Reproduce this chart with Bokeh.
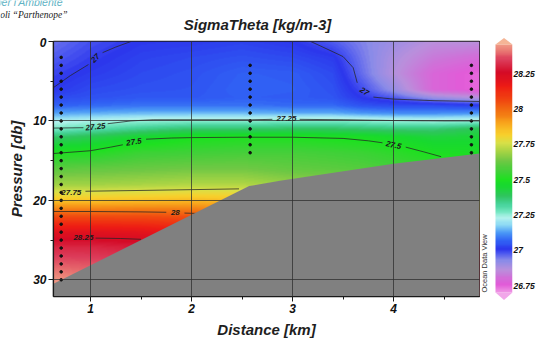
import numpy as np
from bokeh.plotting import figure
from bokeh.models import (Range1d, LinearColorMapper, FixedTicker, LinearAxis,
                          CustomJSTickFormatter)
from bokeh.core.properties import value
from bokeh.layouts import row, column
from bokeh.embed import file_html
from bokeh.resources import INLINE

# ------------------------------------------------------------------ data
distance_km = [0.63, 1.0, 1.5, 2.0, 2.5, 3.0, 3.4, 3.7, 4.0, 4.4, 4.85]
pressure_db = [0, 2, 4, 6, 7, 8, 9, 10, 11, 12, 14, 16, 18, 20, 22, 24, 26, 28, 30, 32]

sigma_at_0_63 = [26.95, 26.97, 26.99, 27.005, 27.03, 27.06, 27.13, 27.21, 27.27, 27.37, 27.50, 27.60, 27.69, 27.84, 28.05, 28.21, 28.31, 28.38, 28.45, 28.48]
sigma_at_1_00 = [26.98, 26.995, 27.01, 27.03, 27.04, 27.07, 27.14, 27.23, 27.30, 27.40, 27.51, 27.61, 27.69, 27.84, 28.05, 28.21, 28.31, 28.37, 28.42, 28.45]
sigma_at_1_50 = [27.005, 27.02, 27.03, 27.04, 27.05, 27.08, 27.15, 27.25, 27.34, 27.45, 27.55, 27.62, 27.70, 27.85, 28.05, 28.20, 28.29, 28.35, 28.40, 28.44]
sigma_at_2_00 = [27.01, 27.03, 27.04, 27.045, 27.05, 27.08, 27.15, 27.26, 27.37, 27.49, 27.56, 27.63, 27.71, 27.86, 28.04, 28.17, 28.27, 28.33, 28.38, 28.42]
sigma_at_2_50 = [27.02, 27.04, 27.06, 27.065, 27.06, 27.08, 27.15, 27.26, 27.37, 27.50, 27.57, 27.63, 27.71, 27.85, 28.00, 28.14, 28.24, 28.30, 28.35, 28.40]
sigma_at_3_00 = [27.005, 27.03, 27.055, 27.06, 27.055, 27.07, 27.14, 27.27, 27.38, 27.50, 27.57, 27.61, 27.68, 27.80, 27.95, 28.10, 28.20, 28.28, 28.34, 28.40]
sigma_at_3_40 = [26.97, 27.01, 27.03, 27.04, 27.045, 27.07, 27.14, 27.27, 27.38, 27.49, 27.56, 27.60, 27.67, 27.80, 27.95, 28.10, 28.20, 28.28, 28.34, 28.40]
sigma_at_3_70 = [26.93, 26.94, 26.95, 26.98, 27.00, 27.04, 27.12, 27.26, 27.37, 27.48, 27.55, 27.59, 27.66, 27.80, 27.95, 28.10, 28.20, 28.28, 28.34, 28.40]
sigma_at_4_00 = [26.90, 26.88, 26.87, 26.91, 26.97, 27.03, 27.11, 27.25, 27.36, 27.46, 27.53, 27.57, 27.65, 27.80, 27.95, 28.10, 28.20, 28.28, 28.34, 28.40]
sigma_at_4_40 = [26.86, 26.82, 26.78, 26.78, 26.90, 27.03, 27.11, 27.24, 27.36, 27.43, 27.49, 27.55, 27.63, 27.78, 27.93, 28.08, 28.18, 28.27, 28.33, 28.40]
sigma_at_4_85 = [26.86, 26.79, 26.74, 26.74, 26.86, 27.01, 27.12, 27.25, 27.40, 27.44, 27.48, 27.53, 27.60, 27.75, 27.90, 28.05, 28.15, 28.25, 28.32, 28.40]

station_distance = [0.71, 2.58, 4.77]
station1_pressure = [2, 3, 4, 5, 6, 7, 8, 9, 10, 11, 12, 13, 14, 15, 16, 17, 18, 19, 20, 21, 22, 23, 24, 25, 26, 27, 28, 29, 30]
station2_pressure = [3, 4, 5, 6, 7, 8, 9, 10, 11, 12, 13, 14]
station3_pressure = [3, 4, 5, 6, 7, 8, 9, 10, 11, 12, 13, 14]

bathy_distance = [0.634, 2.57, 2.89, 4.0, 4.85]
bathy_pressure = [30.5, 18.2, 17.5, 15.4, 14.1]

# contour pieces (distance, pressure), broken where labels sit
c27_a1 = ([0.634, 0.80, 0.98], [5.8, 4.3, 2.9])
c27_a2 = ([1.12, 1.25, 1.40], [1.4, 0.7, 0.0])
c27_b1 = ([3.18, 3.35, 3.50, 3.60, 3.64], [0.0, 1.0, 1.9, 3.3, 5.2])
c27_b2 = ([3.80, 4.00, 4.40, 4.85], [7.0, 7.25, 7.45, 7.55])
c2725_1 = ([0.634, 0.93], [10.9, 10.85])
c2725_2 = ([1.17, 1.40, 1.62, 2.00, 2.60, 2.80], [10.35, 10.0, 9.85, 9.85, 9.85, 9.8])
c2725_3 = ([3.07, 3.50, 4.00, 4.50, 4.85], [9.8, 9.85, 9.95, 10.0, 10.0])
c275_1 = ([0.634, 1.00, 1.20, 1.32], [14.1, 13.75, 13.3, 13.0])
c275_2 = ([1.55, 1.80, 2.00, 2.50, 3.00, 3.50, 3.75, 3.89], [12.3, 12.15, 12.1, 12.05, 12.05, 12.2, 12.5, 12.75])
c275_3 = ([4.12, 4.30, 4.47], [13.3, 13.9, 14.5])
c2775_1 = ([0.95, 1.50, 2.00, 2.47], [18.85, 18.75, 18.65, 18.55])
c28_1 = ([0.634, 1.00, 1.50, 1.75], [21.4, 21.4, 21.45, 21.5])
c28_2 = ([1.93, 2.07], [21.6, 21.65])
c2825_1 = ([1.05, 1.30, 1.50], [24.75, 24.8, 24.9])

label_text = ["27", "27", "27.25", "27.25", "27.5", "27.5", "27.75", "28", "28.25"]
label_distance = [1.05, 3.71, 1.05, 2.94, 1.43, 4.00, 0.81, 1.84, 0.93]
label_pressure = [2.1, 6.3, 10.75, 9.7, 12.65, 13.05, 19.0, 21.5, 24.65]
label_angle = [0.80, -0.55, 0.10, 0.0, 0.15, -0.22, 0.0, 0.0, 0.0]

x_ticks = [1, 2, 3, 4]
x_minor = [1.5, 2.5, 3.5, 4.5]
y_ticks = [0, 10, 20, 30]
y_minor = [5, 15, 25]
colorbar_ticks = [26.75, 27.0, 27.25, 27.5, 27.75, 28.0, 28.25]

# ------------------------------------------------------------------ palette
stop_vals = [26.64, 26.70, 26.75, 26.80, 26.86, 26.92, 26.97, 27.00, 27.06, 27.12, 27.18, 27.22,
             27.27, 27.32, 27.38, 27.45, 27.50, 27.56, 27.63, 27.70, 27.76, 27.82, 27.90, 27.98,
             28.07, 28.16, 28.26, 28.35, 28.43, 28.51]
stop_cols = ["#f6d8f4", "#ee90e4", "#e25ad8", "#d070d8", "#b890dc", "#8c8ce8", "#4c58f0", "#2c36ec",
             "#3060f4", "#4a98f6", "#90dcf4", "#b4f2ee", "#78e8c4", "#48d49c", "#30c460", "#18d830",
             "#1ee020", "#40d038", "#70c844", "#a8d444", "#d8e048", "#f8d02c", "#f8a41c", "#f27412",
             "#f04410", "#ee1c14", "#d40a26", "#dc3c5a", "#ec8478", "#f6b898"]
CLOW, CHIGH = 26.644, 28.505


def _rgb(h):
    return [int(h[i:i + 2], 16) for i in (1, 3, 5)]


stop_rgb = np.array([_rgb(c) for c in stop_cols], dtype=float)
levels = np.linspace(CLOW, CHIGH, 256)
palette = ["#%02x%02x%02x" % tuple(int(round(np.interp(v, stop_vals, stop_rgb[:, k]))) for k in range(3))
           for v in levels]
mapper = LinearColorMapper(palette=palette, low=CLOW, high=CHIGH)

# ------------------------------------------------------------------ gridded field for display
X0, X1 = 0.634, 4.85
YB = 32.1
profiles = np.array([sigma_at_0_63, sigma_at_1_00, sigma_at_1_50, sigma_at_2_00, sigma_at_2_50,
                     sigma_at_3_00, sigma_at_3_40, sigma_at_3_70, sigma_at_4_00, sigma_at_4_40,
                     sigma_at_4_85])
NX, NY = 426, 255
gx = np.linspace(X0, X1, NX)
gy = np.linspace(0, YB, NY)
tmp = np.array([np.interp(gy, pressure_db, prof) for prof in profiles])
field = np.array([np.interp(gx, distance_km, tmp[:, j]) for j in range(NY)])

FONT = value("Liberation Sans")
FONT_NAME = "Liberation Sans"

# ------------------------------------------------------------------ header strip (title texts)
top = figure(width=542, height=37, x_range=Range1d(0, 542), y_range=Range1d(37, 0),
             output_backend="svg", toolbar_location=None, x_axis_location=None, y_axis_location=None,
             title_location=None, min_border=0)
top.outline_line_color = None
top.grid.visible = False
top.background_fill_color = "white"
top.border_fill_color = "white"
top.text(x=[62], y=[1.5], text=["per l'Ambiente"], text_font=FONT, text_font_size="10.5px",
         text_font_style="italic", text_color="#5fb3c4", text_align="right", text_baseline="middle")
top.text(x=[67], y=[14.5], text=["oli \u201cParthenope\u201d"], text_font=value("Liberation Serif"),
         text_font_size="9.5px", text_font_style="italic", text_color="#1a1a1a",
         text_align="right", text_baseline="middle")
top.text(x=[257], y=[23.5], text=["SigmaTheta [kg/m-3]"], text_font=FONT, text_font_size="15px",
         text_font_style="bold italic", text_color="#1e1e1e", text_align="center",
         text_baseline="middle")

# ------------------------------------------------------------------ main section plot
p = figure(width=480, height=304, x_range=Range1d(X0, X1), y_range=Range1d(YB, 0),
           output_backend="svg", toolbar_location=None, title_location=None,
           min_border_left=53, min_border_right=1, min_border_top=4, min_border_bottom=45)
p.background_fill_color = "white"
p.border_fill_color = "white"

p.image(image=[field], x=X0, y=0, dw=X1 - X0, dh=YB, color_mapper=mapper)

for xs, ys in [c27_a1, c27_a2, c27_b1, c27_b2, c2725_1, c2725_2, c2725_3, c275_1, c275_2, c275_3,
               c2775_1, c28_1, c28_2, c2825_1]:
    p.line(xs, ys, line_color="#262626", line_width=0.9, line_alpha=0.85)

p.text(x=label_distance, y=label_pressure, text=label_text, angle=label_angle,
       text_font=FONT, text_font_size="8px", text_font_style="bold italic",
       text_color="#1a1a1a", text_align="center", text_baseline="middle")

p.patch(x=bathy_distance + [X1, X0], y=bathy_pressure + [YB + 1, YB + 1],
        fill_color="#808080", line_color=None)

for sd, sp in zip(station_distance, [station1_pressure, station2_pressure, station3_pressure]):
    p.scatter(x=[sd] * len(sp), y=sp, size=2.6, color="#111111", marker="circle")

for ax in (p.xaxis[0], p.yaxis[0]):
    ax.axis_line_color = "#1a1a1a"
    ax.axis_line_width = 1.2
    ax.major_tick_line_color = "#1a1a1a"
    ax.minor_tick_line_color = "#1a1a1a"
    ax.major_tick_out = 5
    ax.major_tick_in = 0
    ax.minor_tick_out = 3
    ax.minor_tick_in = 0
    ax.major_label_text_font = FONT_NAME
    ax.major_label_text_font_size = "12px"
    ax.major_label_text_font_style = "bold italic"
    ax.major_label_text_color = "#111111"
    ax.major_label_standoff = 2
    ax.axis_label_text_font = FONT_NAME
    ax.axis_label_text_font_size = "15px"
    ax.axis_label_text_font_style = "bold italic"
    ax.axis_label_text_color = "#1e1e1e"
p.xaxis[0].ticker = FixedTicker(ticks=x_ticks, minor_ticks=x_minor)
p.yaxis[0].ticker = FixedTicker(ticks=y_ticks, minor_ticks=y_minor)
p.xaxis[0].axis_label = "Distance [km]"
p.xaxis[0].axis_label_standoff = 5
p.yaxis[0].axis_label = "Pressure [db]"
p.yaxis[0].axis_label_standoff = 5

p.xgrid[0].ticker = FixedTicker(ticks=x_ticks)
p.ygrid[0].ticker = FixedTicker(ticks=y_ticks)
for g in (p.xgrid[0], p.ygrid[0]):
    g.grid_line_color = "#2e2e2e"
    g.grid_line_alpha = 0.75
    g.grid_line_width = 1
    g.level = "overlay"

p.outline_line_color = "#1a1a1a"
p.outline_line_width = 1.5

# ------------------------------------------------------------------ colorbar strip
CB_LO, CB_HI = 26.70, 28.456
cb = figure(width=62, height=304, x_range=Range1d(0, 32), y_range=Range1d(CLOW, CHIGH),
            output_backend="svg", toolbar_location=None, x_axis_location=None, y_axis_location=None,
            title_location=None,
            min_border_left=0, min_border_right=30, min_border_top=0, min_border_bottom=41)
cb.background_fill_color = "white"
cb.border_fill_color = "white"
cb.outline_line_color = None
cb.grid.visible = False
cvals = np.linspace(CB_LO, CB_HI, 256).reshape(-1, 1)
cb.image(image=[cvals], x=15, y=CB_LO, dw=17, dh=CB_HI - CB_LO, color_mapper=mapper)
cb.patch(x=[15, 32, 23.5], y=[CB_HI, CB_HI, CHIGH - 0.004], fill_color=palette[-1], line_color=None)
cb.patch(x=[15, 32, 23.5], y=[CB_LO, CB_LO, CLOW + 0.004], fill_color=palette[5], line_color=None)
cb.text(x=[4], y=[26.906], text=["Ocean Data View"], angle=np.pi / 2, text_font=FONT,
        text_font_size="7.5px", text_color="#333333", text_align="center", text_baseline="middle")
cax = LinearAxis(ticker=FixedTicker(ticks=colorbar_ticks),
                 formatter=CustomJSTickFormatter(code="return tick.toString()"))
cax.axis_line_color = None
cax.major_tick_line_color = None
cax.minor_tick_line_color = None
cax.major_tick_out = 0
cax.major_tick_in = 0
cax.major_label_standoff = 1
cax.major_label_text_font = FONT_NAME
cax.major_label_text_font_size = "8.5px"
cax.major_label_text_font_style = "bold italic"
cax.major_label_text_color = "#111111"
cb.add_layout(cax, "right")

layout = column(top, row(p, column(cb)))
open("out.html", "w").write(file_html(layout, INLINE))
